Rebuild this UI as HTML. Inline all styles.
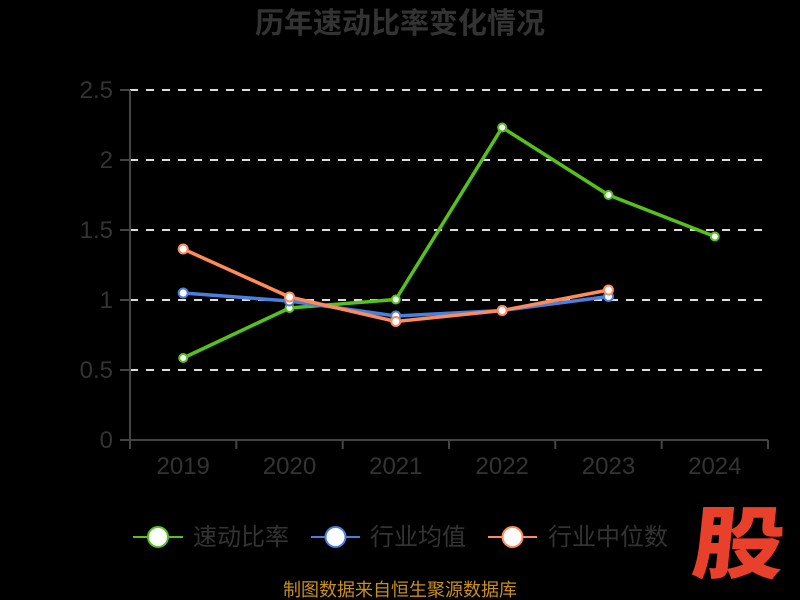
<!DOCTYPE html>
<html><head><meta charset="utf-8"><style>
html,body{margin:0;padding:0;background:#000;}
svg{display:block;}
text{font-family:"Liberation Sans","Noto Sans CJK SC",sans-serif;}
</style></head><body>
<svg width="800" height="600" viewBox="0 0 800 600" xmlns="http://www.w3.org/2000/svg">
<rect width="800" height="600" fill="#000"/>
<text x="400" y="33" text-anchor="middle" font-size="29" font-weight="bold" fill="#333" style="font-family:'Noto Sans CJK SC',sans-serif">历年速动比率变化情况</text>
<g stroke="#ddd" stroke-width="2" stroke-dasharray="8,8">
<line x1="130" y1="90" x2="768" y2="90"/>
<line x1="130" y1="160" x2="768" y2="160"/>
<line x1="130" y1="230" x2="768" y2="230"/>
<line x1="130" y1="300" x2="768" y2="300"/>
<line x1="130" y1="370" x2="768" y2="370"/>
</g>
<g stroke="#444" stroke-width="2" fill="none">
<line x1="130" y1="90" x2="130" y2="440"/>
<line x1="120" y1="90" x2="130" y2="90"/>
<line x1="120" y1="160" x2="130" y2="160"/>
<line x1="120" y1="230" x2="130" y2="230"/>
<line x1="120" y1="300" x2="130" y2="300"/>
<line x1="120" y1="370" x2="130" y2="370"/>
<line x1="120" y1="440" x2="768" y2="440"/>
<line x1="130" y1="440" x2="130" y2="449"/>
<line x1="236.3" y1="440" x2="236.3" y2="449"/>
<line x1="342.7" y1="440" x2="342.7" y2="449"/>
<line x1="449" y1="440" x2="449" y2="449"/>
<line x1="555.3" y1="440" x2="555.3" y2="449"/>
<line x1="661.7" y1="440" x2="661.7" y2="449"/>
<line x1="768" y1="440" x2="768" y2="449"/>
</g>
<g font-size="24" fill="#333" text-anchor="end">
<text x="113" y="98">2.5</text>
<text x="113" y="168">2</text>
<text x="113" y="238">1.5</text>
<text x="113" y="308">1</text>
<text x="113" y="378">0.5</text>
<text x="113" y="448">0</text>
</g>
<g font-size="24" fill="#333" text-anchor="middle">
<text x="183.2" y="474">2019</text>
<text x="289.5" y="474">2020</text>
<text x="395.8" y="474">2021</text>
<text x="502.2" y="474">2022</text>
<text x="608.5" y="474">2023</text>
<text x="714.8" y="474">2024</text>
</g>
<polyline fill="none" stroke="#56c01c" stroke-width="3.5" stroke-linejoin="round" points="183.2,358 289.5,308 395.8,299.5 502.2,127.5 608.5,195 714.8,236.5"/>
<polyline fill="none" stroke="#4a80dd" stroke-width="3.5" stroke-linejoin="round" points="183.2,293 289.5,301 395.8,316 502.2,310.5 608.5,296.5"/>
<polyline fill="none" stroke="#ff8a5a" stroke-width="3.5" stroke-linejoin="round" points="183.2,249 289.5,297 395.8,321.5 502.2,310.5 608.5,290"/>
<g fill="#fff" stroke="#56c01c" stroke-width="2">
<circle cx="183.2" cy="358" r="4"/><circle cx="289.5" cy="308" r="4"/><circle cx="395.8" cy="299.5" r="4"/><circle cx="502.2" cy="127.5" r="4"/><circle cx="608.5" cy="195" r="4"/><circle cx="714.8" cy="236.5" r="4"/>
</g>
<g fill="#fff" stroke="#4a80dd" stroke-width="2">
<circle cx="183.2" cy="293" r="4.5"/><circle cx="289.5" cy="301" r="4.5"/><circle cx="395.8" cy="316" r="4.5"/><circle cx="502.2" cy="310.5" r="4.5"/><circle cx="608.5" cy="296.5" r="4.5"/>
</g>
<g fill="#fff" stroke="#ff8a5a" stroke-width="2">
<circle cx="183.2" cy="249" r="4.5"/><circle cx="289.5" cy="297" r="4.5"/><circle cx="395.8" cy="321.5" r="4.5"/><circle cx="502.2" cy="310.5" r="4.5"/><circle cx="608.5" cy="290" r="4.5"/>
</g>
<g font-size="24" fill="#333" style="font-family:'Noto Sans CJK SC',sans-serif">
<line x1="133" y1="537" x2="183" y2="537" stroke="#56c01c" stroke-width="2"/>
<circle cx="158" cy="537" r="10" fill="#fff" stroke="#56c01c" stroke-width="2"/>
<text x="193" y="545">速动比率</text>
<line x1="311" y1="537" x2="360" y2="537" stroke="#4a80dd" stroke-width="2"/>
<circle cx="335.5" cy="537" r="10" fill="#fff" stroke="#4a80dd" stroke-width="2"/>
<text x="370" y="545">行业均值</text>
<line x1="488" y1="537" x2="537" y2="537" stroke="#ff8a5a" stroke-width="2"/>
<circle cx="512.5" cy="537" r="10" fill="#fff" stroke="#ff8a5a" stroke-width="2"/>
<text x="548" y="545">行业中位数</text>
</g>
<text x="400" y="596" text-anchor="middle" font-size="18" fill="#c98f1c" style="font-family:'Noto Sans CJK SC',sans-serif">制图数据来自恒生聚源数据库</text>
<text x="0" y="0" font-size="92" font-weight="900" fill="#e8402a" style="font-family:'Noto Sans CJK SC',sans-serif" transform="translate(690,572) skewX(-6) scale(1,0.86)">股</text>
</svg>
</body></html>
